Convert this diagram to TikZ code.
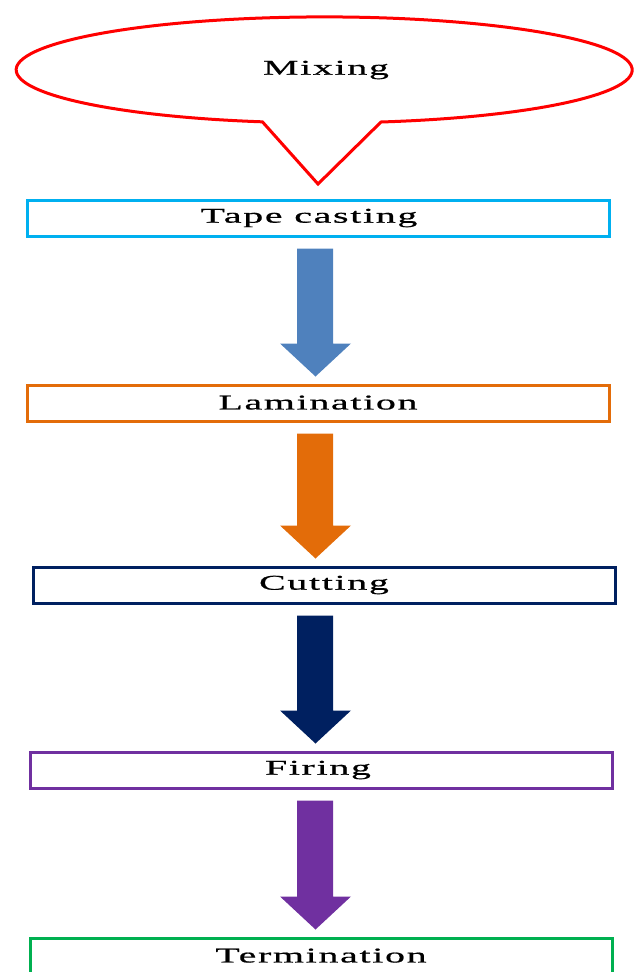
\documentclass[tikz,border=0pt]{standalone}
\usepackage{fontspec}
\setmainfont{Liberation Serif}
\newfontfamily\labfont[FakeStretch=1.9,LetterSpace=8,FakeBold=0.8]{Liberation Serif}
\usetikzlibrary{calc}
\definecolor{cyanc}{HTML}{00B0F0}
\definecolor{bluec}{HTML}{4F81BD}
\definecolor{orangec}{HTML}{E36C09}
\definecolor{navyc}{HTML}{002060}
\definecolor{purplec}{HTML}{7030A0}
\definecolor{greenc}{HTML}{00B050}
\newcommand\blockarrow[3]{%
  \fill[#3] let \p1=(#1.south), \p2=(#2.north) in
    (297,\y1-11) -- (333,\y1-11) -- (333,\y2+40) -- (351,\y2+40) --
    (315.5,\y2+7) -- (280,\y2+40) -- (297,\y2+40) -- cycle;
}
\begin{document}
\begin{tikzpicture}[x=1pt,y=1pt,
  labtext/.style={font=\labfont\fontsize{21}{21}\selectfont},
  stepbox/.style={draw=#1, line width=3pt, minimum width=582pt,
    minimum height=36pt, inner sep=0pt, labtext}]
\useasboundingbox (0,0) rectangle (636,-972);
\clip (0,0) rectangle (636,-972);
% callout
\draw[red, line width=3pt, line join=miter]
  (381,-122) arc[start angle=-79.37, end angle=258.43, x radius=308, y radius=53]
  -- (318,-184) -- cycle;
\node[labtext] (mix) at (326,-70) {Mixing};
% boxes
\node[stepbox=cyanc]   (tape) at (318,-218) {\raisebox{1pt}{Tape casting}\kern18pt};
\node[stepbox=orangec] (lam)  at (318,-403) {\raisebox{1pt}{Lamination}};
\node[stepbox=navyc]   (cut)  at (324,-585) {\raisebox{1pt}{Cutting}};
\node[stepbox=purplec] (fire) at (321,-770) {\raisebox{1pt}{Firing}\kern6pt};
\node[stepbox=greenc]  (term) at (321,-956) {\raisebox{1pt}{Termination}};
% arrows
\blockarrow{tape}{lam}{bluec}
\blockarrow{lam}{cut}{orangec}
\blockarrow{cut}{fire}{navyc}
\blockarrow{fire}{term}{purplec}
\end{tikzpicture}
\end{document}
